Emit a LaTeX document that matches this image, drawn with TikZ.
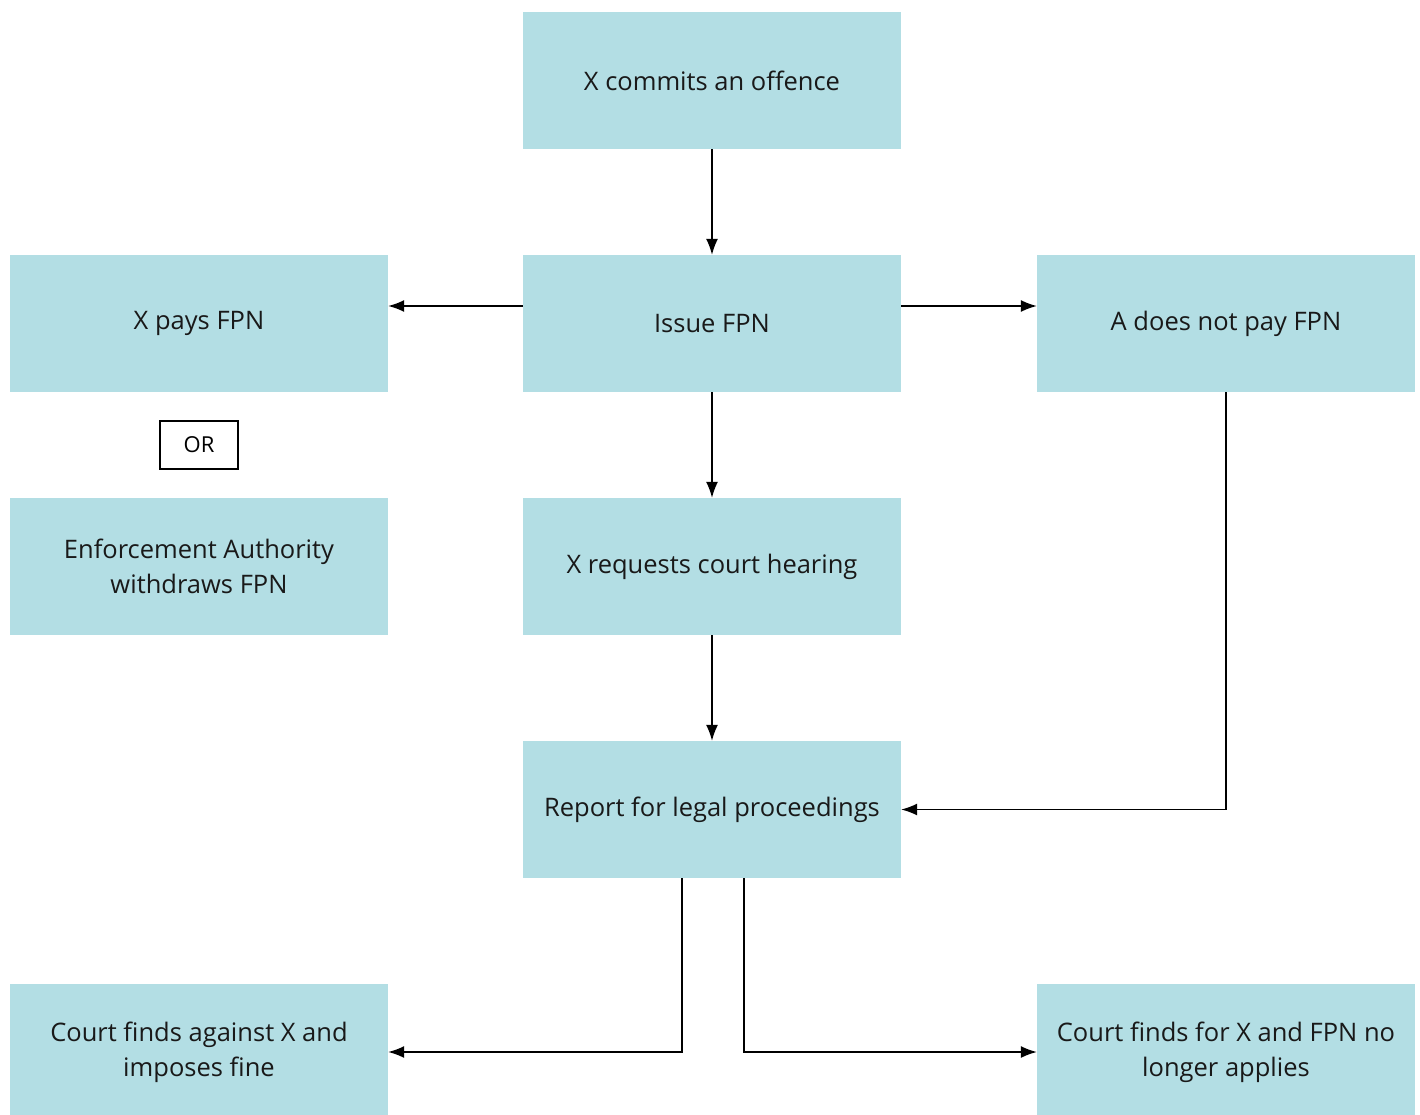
\documentclass[tikz,border=0pt]{standalone}
\usepackage{fontspec}
\setmainfont{Open Sans}
\usetikzlibrary{arrows.meta}
\definecolor{boxblue}{HTML}{B3DEE4}
\begin{document}
\begin{tikzpicture}[x=1pt,y=-1pt,
  fbox/.style={fill=boxblue,draw=none,minimum width=378pt,minimum height=137pt,inner sep=0pt,align=center,font=\fontsize{25.5}{35}\selectfont,text=black!90},
  orbox/.style={draw=black,line width=1.2pt,minimum width=78pt,minimum height=48pt,inner sep=0pt,font=\fontsize{22}{26}\selectfont},
  arr/.style={line width=1.4pt,-{Latex[length=16pt,width=12pt]}}]
\useasboundingbox (0,0) rectangle (1420,1115);
\node[fbox] (offence) at (712,80.5) {X commits an offence};
\node[fbox] (issue) at (712,323.5) {Issue FPN};
\node[fbox] (pays) at (199,323.5) {X pays FPN};
\node[fbox] (notpay) at (1226,323.5) {A does not pay FPN};
\node[orbox] (or) at (199,445) {OR};
\node[fbox] (withdraw) at (199,566.5) {Enforcement Authority\\withdraws FPN};
\node[fbox] (request) at (712,566.5) {X requests court hearing};
\node[fbox] (report) at (712,809.5) {Report for legal proceedings};
\node[fbox] (against) at (199,1052) {Court finds against X and\\imposes fine};
\node[fbox] (for) at (1226,1052) {Court finds for X and FPN no\\longer applies};
\draw[arr] (offence) -- (issue);
\draw[arr] ([yshift=17.5pt]issue.west) -- ([yshift=17.5pt]pays.east);
\draw[arr] ([yshift=17.5pt]issue.east) -- ([yshift=17.5pt]notpay.west);
\draw[arr] (issue) -- (request);
\draw[arr] (request) -- (report);
\draw[arr] (notpay.south) |- (report.east);
\draw[arr] ([xshift=-30pt]report.south) |- (against.east);
\draw[arr] ([xshift=32pt]report.south) |- (for.west);
\end{tikzpicture}
\end{document}
